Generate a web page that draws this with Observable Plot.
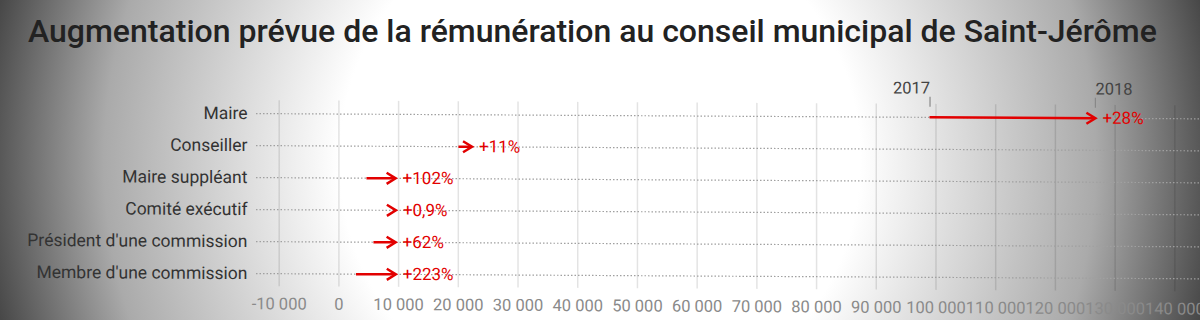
<!DOCTYPE html>
<html>
<head>
<meta charset="utf-8">
<script src="https://cdn.jsdelivr.net/npm/d3@7"></script>
<script src="https://cdn.jsdelivr.net/npm/@observablehq/plot@0.6"></script>
<style>
  html, body { margin: 0; padding: 0; }
  body {
    width: 1200px; height: 320px; overflow: hidden; position: relative;
    font-family: Roboto, sans-serif;
    background: radial-gradient(circle 620px at 600px 160px, #ffffff 42%, #aaaaaa 80%, #484848 100%);
  }
  h1 {
    position: absolute; left: 28px; top: 12px; margin: 0;
    font-size: 32px; font-weight: 500; color: #222; white-space: nowrap;
  }
  #chart { position: absolute; left: 0; top: 60px; }
  #chart svg { transform: skewY(0.32deg); transform-origin: 600px 0; overflow: visible; }
</style>
</head>
<body>
<h1>Augmentation prévue de la rémunération au conseil municipal de Saint-Jérôme</h1>
<div id="chart"></div>
<script>
const categories = ["Maire", "Conseiller", "Maire suppléant", "Comité exécutif", "Président d'une commission", "Membre d'une commission"];
const salary2017 = [99000, 20100, 4700, 9460, 5870, 2950];
const salary2018 = [126700, 22300, 9500, 9545, 9500, 9530];
const changeLabels = ["+28%", "+11%", "+102%", "+0,9%", "+62%", "+223%"];
const xTicks = [-10000, 0, 10000, 20000, 30000, 40000, 50000, 60000, 70000, 80000, 90000, 100000, 110000, 120000, 130000, 140000];
const yearLabels = ["2017", "2018"];

const rows = categories.map((c, i) => ({cat: c, from: salary2017[i], to: salary2018[i], label: changeLabels[i]}));
const years = yearLabels.map((y, i) => ({year: y, x: i === 0 ? salary2017[0] : salary2018[0], anchor: i === 0 ? "end" : "start"}));

const fr = d3.formatLocale({decimal: ",", thousands: "\u00a0", grouping: [3], currency: ["", ""], minus: "-"});
const fmt = fr.format(",");

const red = "#e20000";
const chevron = {draw(ctx) { ctx.moveTo(-9, -5.5); ctx.lineTo(0, 0); ctx.lineTo(-9, 5.5); }};
const maire = () => categories[0];

const chart = Plot.plot({
  width: 1200,
  height: 260,
  marginLeft: 256,
  marginRight: 0,
  marginTop: 42,
  marginBottom: 32,
  style: {background: "transparent", fontFamily: "Roboto, sans-serif", fontSize: "16px"},
  x: {domain: [-13800, 144300]},
  y: {type: "point", domain: categories, padding: 0.4},
  marks: [
    Plot.gridX(xTicks, {stroke: "#000", strokeOpacity: 0.11, strokeWidth: 1.5}),
    Plot.gridY({stroke: "#a0a0a0", strokeOpacity: 1, strokeDasharray: "1.5,2", strokeWidth: 1.2}),
    Plot.axisX({ticks: xTicks, tickFormat: fmt, tickSize: 0, tickPadding: 11, fontSize: 16.5, fill: "#8a8a8a", label: null}),
    Plot.axisY({tickSize: 0, tickPadding: 9, fontSize: 17.5, fill: "#333", label: null}),
    Plot.ruleX(years, {x: "x", y1: maire, y2: maire, dy: -15, insetTop: -5, insetBottom: -5, stroke: "#888", strokeWidth: 1.2}),
    Plot.text(years.filter(d => d.anchor === "end"), {x: "x", y: maire, text: "year", dy: -29, textAnchor: "end", fontSize: 16.5, fill: "#444"}),
    Plot.text(years.filter(d => d.anchor === "start"), {x: "x", y: maire, text: "year", dy: -29, textAnchor: "start", fontSize: 16.5, fill: "#444"}),
    Plot.ruleY(rows, {y: "cat", x1: "from", x2: "to", stroke: red, strokeWidth: 2.5}),
    Plot.dot(rows, {x: "to", y: "cat", symbol: chevron, stroke: red, strokeWidth: 2.5, fill: "none", strokeLinejoin: "miter"}),
    Plot.text(rows, {x: "to", y: "cat", text: "label", dx: 7, textAnchor: "start", fontSize: 17, fill: red})
  ]
});
document.getElementById("chart").appendChild(chart);
</script>
</body>
</html>
